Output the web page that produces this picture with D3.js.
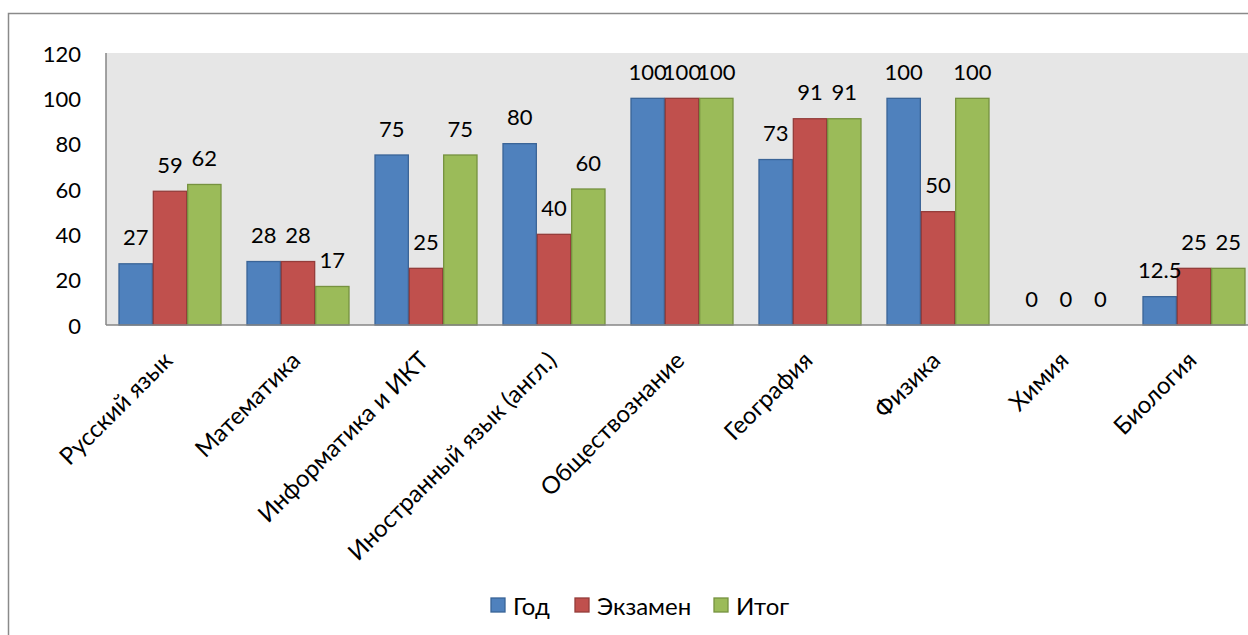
<!DOCTYPE html>
<html><head><meta charset="utf-8">
<script src="https://cdn.jsdelivr.net/npm/d3@7"></script>
<style>
html,body{margin:0;padding:0;background:#fff;}
svg{display:block;font-family:Lato,"Open Sans",sans-serif;}
</style></head>
<body>
<svg id="chart" width="1248" height="635"></svg>
<script>
const categories = ["Русский язык","Математика","Информатика и ИКТ","Иностранный язык (англ.)","Обществознание","География","Физика","Химия","Биология"];
const seriesNames = ["Год","Экзамен","Итог"];
const yearValues = [27,28,75,80,100,73,100,0,12.5];
const examValues = [59,28,25,40,100,91,50,0,25];
const totalValues = [62,17,75,60,100,91,100,0,25];
const yTicks = [0,20,40,60,80,100,120];
const fills = ["#4F81BD","#C0504D","#9BBB59"];
const strokes = ["#3A6497","#943C3A","#76923F"];

(function(){
const series = [yearValues, examValues, totalValues];
const svg = d3.select("#chart");

svg.append("rect").attr("x",8.5).attr("y",13.5).attr("width",1260).attr("height",640)
  .attr("fill","#fff").attr("stroke","#8a8a8a").attr("stroke-width",1.5);

const pLeft=106, pTop=53, pBottom=325, step=128;
const pRight = pLeft + step*categories.length;

const x = d3.scaleBand().domain(categories).range([pLeft,pRight])
  .paddingInner(25/128).paddingOuter(12.5/128);
const xs = d3.scaleBand().domain(d3.range(3)).range([0,x.bandwidth()]);
const y = d3.scaleLinear().domain([0,120]).range([pBottom,pTop]);

svg.append("rect").attr("x",pLeft).attr("y",pTop).attr("width",pRight-pLeft).attr("height",pBottom-pTop)
  .attr("fill","#E6E6E6");

series.forEach((vals,si)=>{
  const g = svg.append("g");
  g.selectAll("rect").data(vals).join("rect")
    .attr("x",(d,i)=>x(categories[i])+xs(si)+0.5)
    .attr("y",d=>y(d))
    .attr("width",xs.bandwidth()-1)
    .attr("height",d=>pBottom-y(d))
    .attr("fill",fills[si]).attr("stroke",strokes[si]).attr("stroke-width",1.3);
});

svg.append("line").attr("x1",pLeft).attr("x2",pLeft).attr("y1",pTop).attr("y2",pBottom)
  .attr("stroke","#868686").attr("stroke-width",1.5);
svg.append("line").attr("x1",pLeft).attr("x2",pRight).attr("y1",pBottom).attr("y2",pBottom)
  .attr("stroke","#868686").attr("stroke-width",1.5);

svg.append("g").selectAll("text").data(yTicks).join("text")
  .attr("x",81).attr("y",d=>y(d)).attr("text-anchor","end").attr("dominant-baseline","central")
  .attr("font-size",22).attr("fill","#000").text(d=>d);

series.forEach((vals,si)=>{
  svg.append("g").selectAll("text").data(vals).join("text")
    .attr("x",(d,i)=>x(categories[i])+xs(si)+xs.bandwidth()/2)
    .attr("y",d=>y(d)-27)
    .attr("text-anchor","middle").attr("dominant-baseline","central")
    .attr("font-size",22).attr("fill","#000").text(d=>d);
});

svg.append("g").selectAll("text").data(categories).join("text")
  .attr("transform",d=>`translate(${x(d)+x.bandwidth()/2+4},${362}) rotate(-45)`)
  .attr("text-anchor","end").attr("font-size",24).attr("fill","#000").text(d=>d);

const legendX = [491,575,714];
const lg = svg.append("g");
seriesNames.forEach((n,i)=>{
  lg.append("rect").attr("x",legendX[i]).attr("y",598).attr("width",14).attr("height",14)
    .attr("fill",fills[i]).attr("stroke",strokes[i]).attr("stroke-width",1.3);
  lg.append("text").attr("x",legendX[i]+22).attr("y",605).attr("dominant-baseline","central")
    .attr("font-size",24).attr("fill","#000").text(n);
});
})();
</script>
</body></html>
